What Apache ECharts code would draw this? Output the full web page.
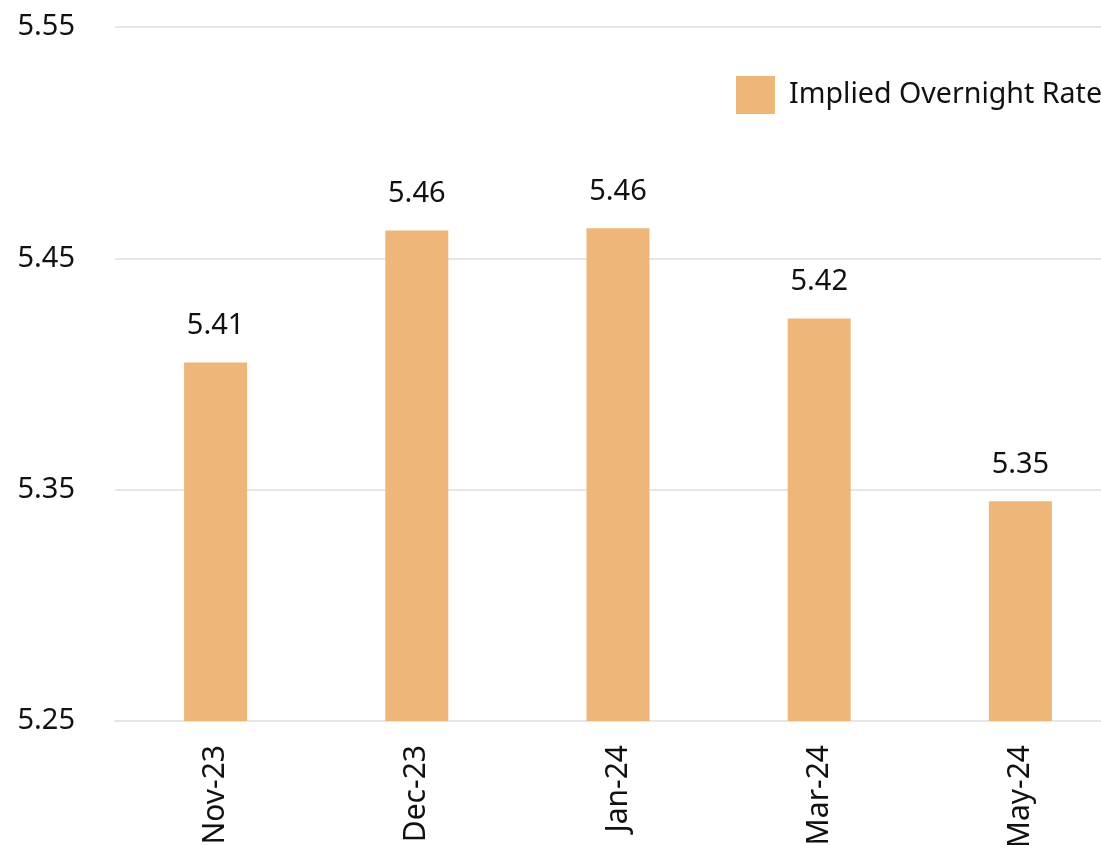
<!DOCTYPE html>
<html>
<head>
<meta charset="utf-8">
<script src="https://cdn.jsdelivr.net/npm/echarts@6/dist/echarts.min.js"></script>
<style>
html,body{margin:0;padding:0;background:#fff;overflow:hidden;}
#wrap{width:1101px;height:845px;overflow:hidden;position:relative;}
#chart{width:1121px;height:845px;position:absolute;left:0;top:0;}
</style>
</head>
<body>
<div id="wrap"><div id="chart"></div></div>
<script>
var categories = ['Nov-23', 'Dec-23', 'Jan-24', 'Mar-24', 'May-24'];
var impliedRate = [5.405, 5.462, 5.463, 5.424, 5.345];
var impliedRateLabels = ['5.41', '5.46', '5.46', '5.42', '5.35'];
var yTicks = ['5.25', '5.35', '5.45', '5.55'];

var FONT = 'Noto Sans';
var chart = echarts.init(document.getElementById('chart'), null, {renderer: 'canvas', width: 1121, height: 845});
chart.setOption({
  animation: false,
  backgroundColor: '#ffffff',
  textStyle: {fontFamily: FONT, color: '#111'},
  grid: {left: 115, right: 0, top: 27, bottom: 124, containLabel: false, outerBoundsMode: 'none'},
  legend: {
    show: true,
    left: 736, top: 76,
    padding: 0,
    itemWidth: 39, itemHeight: 38,
    icon: 'rect',
    textStyle: {fontFamily: FONT, fontSize: 28.6, color: '#111', padding: [5, 0, 0, 9]},
    data: ['Implied Overnight Rate']
  },
  xAxis: {
    type: 'category',
    data: categories,
    axisLine: {show: true, lineStyle: {color: '#e6e6e6', width: 2}},
    axisTick: {show: false},
    axisLabel: {rotate: 90, margin: 24, fontSize: 30, color: '#111', fontFamily: FONT, interval: 0}
  },
  yAxis: {
    type: 'value',
    min: 5.25, max: 5.55, interval: 0.1,
    axisLine: {show: false},
    axisTick: {show: false},
    splitLine: {show: true, lineStyle: {color: '#e6e6e6', width: 2}},
    axisLabel: {
      margin: 40, fontSize: 29, color: '#111', fontFamily: FONT,
      formatter: function (v) {
        var s = v.toFixed(2);
        return yTicks.indexOf(s) >= 0 ? s : '';
      }
    }
  },
  series: [{
    name: 'Implied Overnight Rate',
    type: 'bar',
    data: impliedRate,
    barWidth: 63,
    itemStyle: {color: '#eeb678'},
    label: {
      show: true, position: 'top', distance: 22,
      fontSize: 29, color: '#111', fontFamily: FONT,
      formatter: function (p) { return impliedRateLabels[p.dataIndex]; }
    }
  }]
});
</script>
</body>
</html>
